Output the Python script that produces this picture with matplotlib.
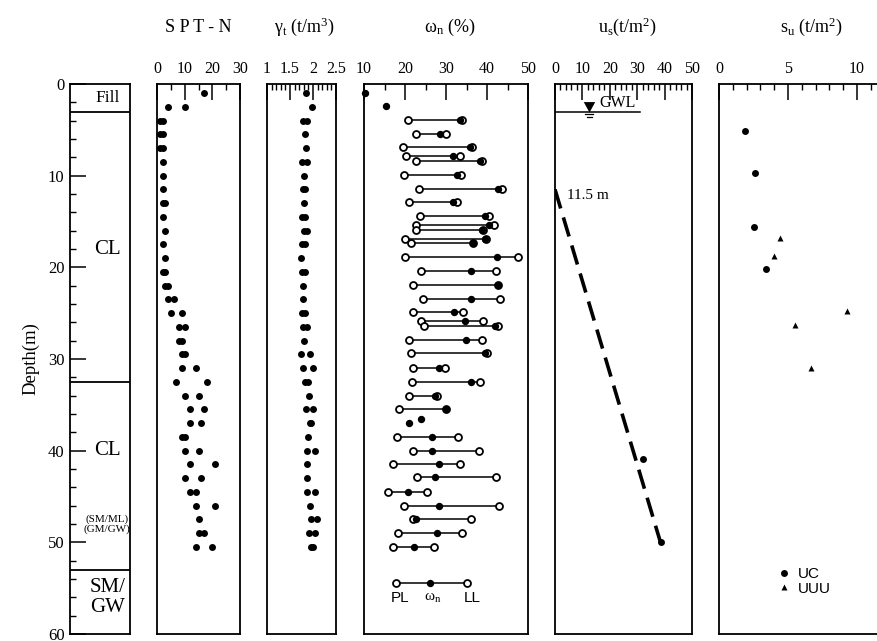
"""
Boring log profile: SPT-N, unit weight, water content / Atterberg limits,
pore pressure and undrained strength against depth.
Output: out.png
"""
import numpy as np
import matplotlib
matplotlib.use('Agg')
import matplotlib.pyplot as plt

plt.rcParams['font.family'] = ['Liberation Serif', 'DejaVu Serif']
plt.rcParams['mathtext.fontset'] = 'custom'
plt.rcParams['mathtext.rm'] = 'Liberation Serif'
plt.rcParams['mathtext.it'] = 'Liberation Serif:italic'
plt.rcParams['mathtext.default'] = 'regular'

nan = np.nan

# ---- soil column ----
layer_bounds = [3.0, 32.5, 53.0]
layer_names = ['Fill', 'CL', 'CL', '(SM/ML)\n(GM/GW)', 'SM/\nGW']
layer_label_depth = [1.5, 18.0, 40.0, 48.0, 56.0]

# ---- SPT-N and unit weight (two values at some depths) ----
test_depth = [1.0, 2.5, 4.0, 5.5, 7.0, 8.5, 10.0, 11.5, 13.0, 14.5, 16.0, 17.5,
              19.0, 20.5, 22.0, 23.5, 25.0, 26.5, 28.0, 29.5, 31.0, 32.5, 34.0,
              35.5, 37.0, 38.5, 40.0, 41.5, 43.0, 44.5, 46.0, 47.5, 49.0, 50.5]
spt_n1 = [17, 4, 1, 1, 1, 2, 2, 2, 2, 2, 3, 2, 3, 2, 3, 4, 5, 8, 8, 9, 9, 7, 10,
          12, 12, 9, 10, 12, 10, 12, 14, 15, 15, 14]
spt_n2 = [nan, 10, 2, 2, 2, nan, nan, nan, 3, nan, nan, nan, nan, 3, 4, 6, 9,
          10, 9, 10, 14, 18, 15, 17, 16, 10, 15, 21, 16, 14, 21, nan, 17, 20]
gamma1 = [1.84, 1.97, 1.79, 1.82, 1.84, 1.77, 1.81, 1.79, 1.81, 1.77, 1.81,
          1.77, 1.74, 1.77, 1.79, 1.79, 1.77, 1.78, 1.80, 1.74, 1.79, 1.82,
          1.91, 1.84, 1.93, 1.90, 1.86, 1.87, 1.88, 1.86, 1.93, 1.96, 1.92, 1.96]
gamma2 = [nan, nan, 1.88, nan, nan, 1.86, nan, 1.83, nan, 1.83, 1.86, 1.83,
          nan, 1.83, nan, nan, 1.83, 1.86, nan, 1.93, 1.99, 1.90, nan, 2.01,
          1.96, nan, 2.04, nan, nan, 2.04, nan, 2.09, 2.04, 2.00]

# ---- water content, plastic and liquid limits (%) ----
wn_depth = [1.0, 2.4, 3.9, 5.4, 6.9, 7.9, 8.4, 9.9, 11.4, 12.9, 14.4, 15.4,
            15.9, 16.9, 17.4, 18.9, 20.4, 21.9, 23.4, 24.9, 25.9, 26.4, 27.9,
            29.4, 31.0, 32.5, 34.0, 35.5, 36.5, 37.0, 38.5, 40.0, 41.5, 42.9,
            44.5, 46.0, 47.5, 49.0, 50.5]
pl = [nan, nan, 20.8, 22.6, 19.5, 20.2, 22.6, 19.8, 23.3, 21.0, 23.7, 22.6,
      22.7, 20.0, 21.4, 20.1, 24.0, 21.9, 24.4, 21.9, 24.0, 24.6, 21.0, 21.4,
      22.0, 21.6, 20.9, 18.6, nan, nan, 18.1, 21.9, 17.1, 22.9, 15.8, 19.7,
      22.0, 18.3, 17.1]
wn = [10.2, 15.4, 33.3, 28.5, 35.8, 31.8, 38.4, 32.6, 42.7, 31.7, 39.6, 40.4,
      38.9, 39.5, 36.5, 42.5, 36.0, 42.6, 36.0, 32.0, 34.7, 41.9, 34.8, 39.6,
      28.3, 36.2, 27.3, 30.0, 24.0, 20.9, 26.7, 26.6, 28.2, 27.3, 20.8, 28.3,
      22.8, 27.8, 22.2]
ll = [nan, nan, 34.0, 30.1, 36.4, 33.5, 38.8, 33.6, 43.7, 32.7, 40.5, 41.6,
      39.0, 39.7, 36.6, 47.6, 42.3, 42.7, 43.1, 34.2, 39.1, 42.7, 38.9, 40.0,
      29.7, 38.4, 27.7, 30.1, nan, nan, 33.0, 38.0, 33.5, 42.1, 25.3, 42.9,
      36.0, 34.0, 27.0]

# ---- pore water pressure (t/m2) ----
gwl_depth = 3.1
us_line_depth = [11.5, 50.0]
us_line = [0.0, 38.5]
us_depth = [40.9, 50.0]
us_meas = [32.0, 38.6]

# ---- undrained shear strength (t/m2) ----
uc_depth = [5.1, 9.7, 15.6, 20.2]
uc_su = [1.9, 2.6, 2.55, 3.4]
uuu_depth = [16.8, 18.8, 24.8, 26.3, 31.0]
uuu_su = [4.4, 4.0, 9.3, 5.5, 6.7]

W, H = 877, 641
AX_TOP, AX_BOT = 84, 634


def panel_rect(x0, x1):
    return [x0 / W, 1 - AX_BOT / H, (x1 - x0) / W, (AX_BOT - AX_TOP) / H]


def setup_panel(ax, xlim, major, minor, labels, title, title_dx=0.0):
    ax.set_xlim(*xlim)
    ax.set_ylim(60, 0)
    ax.xaxis.tick_top()
    ax.set_xticks(major)
    ax.set_xticklabels(labels)
    ax.set_xticks(minor, minor=True)
    ax.tick_params(axis='x', which='major', direction='in', length=11.5,
                   width=1.1, labelsize=11.5, pad=5, top=True, bottom=False)
    ax.tick_params(axis='x', which='minor', direction='in', length=4.5,
                   width=1.0, top=True, bottom=False)
    ax.set_yticks([])
    for sp in ax.spines.values():
        sp.set_linewidth(1.3)
    ax.text(0.5 + title_dx, 1 + 57 / (AX_BOT - AX_TOP), title, transform=ax.transAxes,
            ha='center', va='center', fontsize=13)


def main():
    fig = plt.figure(figsize=(W / 100, H / 100), dpi=100)

    # ---- soil column with depth axis ----
    ax0 = fig.add_axes(panel_rect(70, 130))
    ax0.set_xlim(0, 1)
    ax0.set_ylim(60, 0)
    ax0.set_xticks([])
    ax0.set_yticks(range(0, 61, 10))
    ax0.set_yticks(range(0, 61, 2), minor=True)
    ax0.tick_params(axis='y', which='major', direction='in', length=11.5,
                    width=1.1, labelsize=12, pad=4)
    ax0.tick_params(axis='y', which='minor', direction='in', length=4.5, width=1.0)
    for sp in ax0.spines.values():
        sp.set_linewidth(1.3)
    for d in layer_bounds:
        ax0.axhline(d, color='black', lw=1.3)
    for name, d in zip(layer_names, layer_label_depth):
        if name.startswith('('):
            fs, ls = 8, 1.0
        elif name == 'Fill':
            fs, ls = 12.5, 1.0
        else:
            fs, ls = 15, 1.05
        ax0.text(0.62, d, name, ha='center', va='center', fontsize=fs,
                 linespacing=ls)
    ax0.set_ylabel('Depth(m)', fontsize=13.5, labelpad=6)

    # ---- SPT-N ----
    ax1 = fig.add_axes(panel_rect(157, 240))
    setup_panel(ax1, (0, 30), [0, 10, 20, 30], [5, 15, 25],
                ['0', '10', '20', '30'], 'S P T - N')
    ax1.plot(spt_n1, test_depth, 'o', color='black', ms=5, mec='none')
    ax1.plot(spt_n2, test_depth, 'o', color='black', ms=5, mec='none')

    # ---- unit weight ----
    ax2 = fig.add_axes(panel_rect(267, 336))
    setup_panel(ax2, (1, 2.5), [1, 1.5, 2, 2.5], np.arange(1.1, 2.45, 0.1),
                ['1', '1.5', '2', '2.5'],
                'γ$_{\\mathrm{t}}$ (t/m$^{\\mathrm{3}}$)', title_dx=0.04)
    ax2.plot(gamma1, test_depth, 'o', color='black', ms=5, mec='none')
    ax2.plot(gamma2, test_depth, 'o', color='black', ms=5, mec='none')

    # ---- water content / Atterberg limits ----
    ax3 = fig.add_axes(panel_rect(364, 528))
    setup_panel(ax3, (10, 50), [10, 20, 30, 40, 50], [15, 25, 35, 45],
                ['10', '20', '30', '40', '50'], 'ω$_{\\mathrm{n}}$ (%)',
                title_dx=0.02)
    for d, p, w, l in zip(wn_depth, pl, wn, ll):
        if not np.isnan(p):
            ax3.plot([p, l], [d, d], color='black', lw=1.1, zorder=2)
            ax3.plot([p, l], [d, d], 'o', ms=5, mfc='white', mec='black',
                     mew=1.3, zorder=3, clip_on=False)
    ax3.plot(wn, wn_depth, 'o', color='black', ms=5.3, mec='none', zorder=4,
             clip_on=False)
    # legend sample
    lx = [0.195, 0.40, 0.6275]
    ly = 0.093
    ax3.plot([lx[0], lx[2]], [ly, ly], color='black', lw=1.1,
             transform=ax3.transAxes)
    ax3.plot([lx[0], lx[2]], [ly, ly], 'o', ms=5, mfc='white', mec='black',
             mew=1.3, transform=ax3.transAxes)
    ax3.plot([lx[1]], [ly], 'o', color='black', ms=5.3, mec='none',
             transform=ax3.transAxes)
    ax3.text(0.22, 0.066, 'PL', transform=ax3.transAxes, ha='center',
             va='center', fontsize=11, family='Liberation Sans')
    ax3.text(0.42, 0.066, 'ω$_{\\mathrm{n}}$', transform=ax3.transAxes,
             ha='center', va='center', fontsize=11)
    ax3.text(0.66, 0.066, 'LL', transform=ax3.transAxes, ha='center',
             va='center', fontsize=11, family='Liberation Sans')

    # ---- pore water pressure ----
    ax4 = fig.add_axes(panel_rect(555, 692))
    setup_panel(ax4, (0, 50), [0, 10, 20, 30, 40, 50],
                [v for v in range(2, 50, 2) if v % 10],
                ['0', '10', '20', '30', '40', '50'],
                'u$_{\\mathrm{s}}$(t/m$^{\\mathrm{2}}$)', title_dx=0.03)
    ax4.plot([0, 31], [gwl_depth, gwl_depth], color='black', lw=1.1)
    tri = [(-0.55, 1.0), (0.55, 1.0), (0.0, 0.0)]  # tip sits on the water line
    ax4.plot([12.5], [gwl_depth], marker=tri, ms=15, color='black', mec='none')
    ax4.plot([11.0, 14.0], [gwl_depth + 0.2, gwl_depth + 0.2], color='black', lw=0.9)
    ax4.plot([11.5, 13.5], [gwl_depth + 0.45, gwl_depth + 0.45], color='black', lw=0.9)
    ax4.text(16.2, gwl_depth - 0.15, 'GWL', ha='left', va='bottom', fontsize=11.5)
    ax4.plot(us_line, us_line_depth, color='black', lw=2.6, dashes=(5.5, 2.6),
             dash_capstyle='butt')
    ax4.plot(us_meas, us_depth, 'o', color='black', ms=5, mec='none')
    ax4.text(4.3, 12.2, '11.5 m', ha='left', va='center', fontsize=11)

    # ---- undrained shear strength ----
    ax5 = fig.add_axes(panel_rect(719, 719 + 12 * 13.8))
    setup_panel(ax5, (0, 12), [0, 5, 10], [1, 2, 3, 4, 6, 7, 8, 9, 11],
                ['0', '5', '10'], 's$_{\\mathrm{u}}$ (t/m$^{\\mathrm{2}}$)',
                title_dx=0.06)
    ax5.plot(uc_su, uc_depth, 'o', color='black', ms=5, mec='none', label='UC')
    ax5.plot(uuu_su, uuu_depth, '^', color='black', ms=4.8, mec='none', label='UUU')
    ax5.legend(loc='lower left', bbox_to_anchor=(0.29, 0.05), frameon=False,
               handlelength=0.8, handletextpad=0.5, labelspacing=0.05,
               borderpad=0.2, numpoints=1,
               prop={'family': 'Liberation Sans', 'size': 11})

    plt.savefig('out.png', dpi=100)
    plt.close()


if __name__ == '__main__':
    main()
